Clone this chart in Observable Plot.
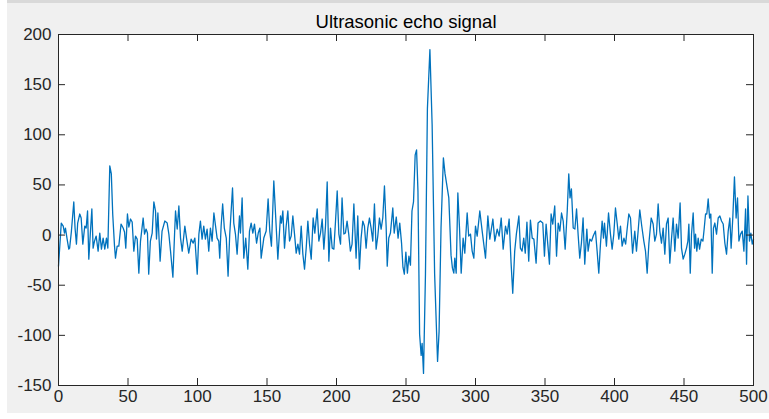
<!DOCTYPE html>
<html>
<head>
<meta charset="utf-8">
<script src="https://cdn.jsdelivr.net/npm/d3@7"></script>
<script src="https://cdn.jsdelivr.net/npm/@observablehq/plot@0.6"></script>
<style>
  html, body { margin: 0; padding: 0; background: #ffffff; width: 769px; height: 419px; overflow: hidden; }
  #bg { position: absolute; left: 7px; top: 0px; width: 762px; height: 413px; background: #f0f0f0; border-top: 3px solid #d9d9d9; box-sizing: border-box; }
  #chart { position: absolute; left: 0; top: 0; }
</style>
</head>
<body>
<div id="bg"></div>
<div id="chart"></div>
<script>
const chartTitle = "Ultrasonic echo signal";
const xTicks = [0, 50, 100, 150, 200, 250, 300, 350, 400, 450, 500];
const yTicks = [-150, -100, -50, 0, 50, 100, 150, 200];

// sample index
const sampleIdx = [
  0, 2, 3.4, 4.3, 5, 6.2, 7.4, 8, 9.3, 11, 11.9, 12.9, 13.8, 15.3, 16.3, 17.5, 18.9, 19.9, 20.9, 21.8,
  23, 24, 24.9, 25.9, 27.1, 28.5, 29.7, 30.9, 32.1, 33.3, 34.5, 35.5, 36.9, 38, 39, 40.3, 41, 42.2, 43.4, 45,
  46.5, 47.5, 48.4, 49.6, 50.6, 51.8, 53, 54.2, 55.4, 56.6, 57.8, 59, 60.9, 61.9, 63, 64, 64.9, 66.1, 67.4, 68.6,
  69.8, 70.5, 71.5, 73.1, 74.5, 76.5, 78.2, 79.4, 80.6, 82.3, 83.5, 84.2, 85.4, 86.6, 87.8, 89, 90.9, 92.1, 93.7, 95.4,
  96.9, 98.1, 99.8, 101, 102.1, 103.3, 104.5, 105.7, 106.9, 108.1, 109.3, 110.5, 111.8, 113, 114.1, 115.3, 116, 117, 118.1, 119.3,
  120.7, 122, 123.2, 125.2, 126.1, 127.3, 128.5, 130.2, 130.9, 132.1, 133.3, 134.7, 136.2, 137.4, 138.6, 139.8, 141, 142.5, 143.7, 144.9,
  145.8, 147.7, 149.4, 150.8, 152, 153.2, 154.9, 156.3, 157.8, 159.7, 160.4, 161.4, 162.6, 163.8, 165, 166.2, 167.4, 168.6, 169.8, 171,
  172.2, 173.4, 174.6, 175.8, 177, 178.2, 179.4, 180.6, 181.8, 183.2, 184.4, 186.1, 187.3, 188.5, 189.7, 190.9, 192.1, 193.3, 194.5, 195.7,
  196.9, 198.1, 199.3, 200.5, 201.7, 202.9, 204, 205.3, 206.4, 207.6, 208.8, 210, 211.2, 212.5, 214.1, 215.3, 216.5, 217.7, 218.9, 220.1,
  221.3, 222.5, 223.7, 224.9, 226.1, 227.3, 228.5, 229.7, 230.9, 232.1, 233.3, 234.5, 235.7, 236.5, 237.6, 238.8, 240.5, 241.5, 243, 244.3,
  245.5, 246.8, 247.8, 248.8, 249.9, 251, 252.1, 253.2, 254.3, 255.4, 256.6, 257.6, 258.6, 259.8, 260.9, 261.6, 262.6, 264, 265.4, 267.2,
  268.8, 270.6, 272.7, 273.8, 275.2, 276.9, 278.1, 280.8, 282.4, 283.4, 284.4, 285.1, 286.1, 287.3, 288.5, 289.7, 291.1, 292.3, 294, 295.1,
  296.4, 297.6, 298.8, 300, 301.2, 303.1, 304.8, 307.2, 308.9, 310.3, 312.5, 313.9, 315.6, 317, 318.5, 319.9, 321.6, 322.8, 324.2, 325.6,
  326.8, 328.2, 329.4, 331.2, 332.3, 333.5, 334.7, 335.8, 337, 338.3, 339.5, 340.8, 342, 343.6, 345, 346.7, 348.4, 349.6, 350.8, 352,
  353.2, 354.4, 355.6, 357, 358.3, 359.5, 360.7, 361.9, 363.1, 364.5, 366, 367.1, 368, 369, 370.3, 371.5, 372.7, 373.9, 375, 376.2,
  377.4, 378.6, 380.1, 381, 382.3, 383.5, 384.7, 386.3, 387.5, 388.7, 389.9, 391.1, 392.1, 392.8, 394.2, 395.7, 397.1, 398.3, 399.5, 400.7,
  401.9, 403.1, 404.3, 405.5, 406.8, 408, 409.1, 410.3, 411.5, 413, 414.6, 415.8, 417, 418.2, 419.6, 421.1, 422.3, 423.5, 424.7, 426.4,
  427.8, 429, 430.2, 431.4, 432.6, 433.8, 435, 436.2, 437.4, 438.6, 439.8, 441, 442.2, 443.4, 444.6, 445.8, 447.2, 448.2, 449.4, 450.6,
  451.8, 452.8, 453.5, 454.5, 455.4, 456.6, 457.6, 458.3, 459.2, 460.2, 461.2, 462.4, 463.6, 464.5, 465.5, 466.4, 467.4, 468.4, 469.3, 470.3,
  471.2, 472.2, 473.4, 474.6, 475.8, 477, 478.2, 479.4, 480.6, 481.8, 483, 483.9, 485.1, 486.3, 487.5, 488.5, 489.5, 490.7, 491.9, 493.1,
  494.3, 495, 496, 497.1, 498.1, 499.1, 500
];

// echo amplitude
const amplitude = [
  -31, 12, 9, 2, 7, -4, -14, -13, 4, 33, 7, -9, 12, 21, 17, -9, 9, 7, 24, -24,
  4, 26, -13, -6, -1, -16, 2, -14, -3, -14, -3, -13, 69, 61, 21, -11, -23, -11, -11, 11,
  7, 3, -13, 21, 8, 16, 13, -16, -1, -4, -38, -6, 17, 1, 6, 2, -39, -6, 2, 33,
  24, -4, 22, -26, 4, 14, 12, 1, -16, -42, 1, 24, 6, 29, -3, -16, 9, -3, -18, -4,
  -8, -3, -39, 1, 14, -4, 9, -4, 6, -16, 7, -6, 22, 9, -3, -6, -23, 9, 31, 7,
  -3, -41, 1, 47, 12, 1, -19, 19, 2, 37, -23, -3, -34, 4, 12, 2, 11, -8, 2, 7,
  -23, -3, 4, 36, 4, -11, 54, 17, -24, 19, 12, 24, -13, 9, 24, -6, -1, 19, 1, -18,
  -9, -19, 9, -19, -34, -13, 14, -9, -24, 17, 2, 26, -6, 2, 16, -14, 9, 53, -26, 7,
  -13, -14, 14, 44, 1, -9, 37, 1, 2, 14, 1, -16, -9, 31, -23, 19, -34, -3, 14, 9,
  -13, 7, 17, 7, -6, 31, -14, -1, 17, 6, 17, 49, 9, -31, -3, 2, 27, 2, 18, -3,
  12, -8, -32, -39, -17, -38, -21, -30, 24, 33, 80, 85, 44, -99, -120, -108, -138, -39, 126, 185,
  110, -39, -126, -96, 7, 77, 61, 37, -20, -33, -38, -23, -38, 42, 7, -38, -3, -18, 22, -1,
  1, -16, -23, 9, -1, 24, 4, -23, 19, -4, 16, -6, 6, -1, 17, -14, 9, 1, 16, -28,
  -58, -16, 1, 19, -13, -16, -3, -18, 13, -26, 15, -3, -4, -28, 12, 14, 12, -21, 11, -9,
  -29, 21, 11, 29, -21, 12, 4, 22, 14, -14, 24, 61, 37, 46, 7, 6, 26, -1, -23, -8,
  17, -29, 6, -16, -4, -6, -1, 4, -16, -38, -9, 14, -3, 12, -11, 22, 1, -14, 1, 27,
  12, -4, 9, -11, -3, -9, 6, 21, 17, -18, 4, -16, 4, 25, 9, -6, -16, -38, -9, 17,
  11, -6, 1, 31, 4, -8, 7, -19, 11, 17, -28, -4, 17, -16, 11, -3, 32, -13, -24, -19,
  -13, -6, 11, -38, 1, 22, -13, 1, -16, -3, -14, -4, -6, 6, 21, 21, 36, 17, 21, -38,
  7, 12, 1, 17, 19, 14, 11, -8, -19, 4, 17, -13, 17, 58, 17, 37, -6, 1, 4, -16,
  26, -29, 39, -6, 2, -9, -4
];

const data = sampleIdx.map((x, i) => ({x, y: amplitude[i]}));

const W = 769, H = 419;
const mL = 58, mR = 16, mT = 34, mB = 34;
const plotW = W - mL - mR, plotH = H - mT - mB;
const tickLen = 7;
const axisColor = "#262626";
const fmt = d => String(d);

const chart = Plot.plot({
  width: W,
  height: H,
  marginLeft: mL,
  marginRight: mR,
  marginTop: mT,
  marginBottom: mB,
  style: {background: "transparent", fontFamily: "'Liberation Sans', Arial, Helvetica, sans-serif", fontSize: "17px", color: axisColor},
  x: {domain: [0, 500], label: null},
  y: {domain: [-150, 200], label: null},
  marks: [
    Plot.frame({fill: "white", stroke: "none"}),
    Plot.line(data, {x: "x", y: "y", stroke: "#0072BD", strokeWidth: 1.3}),
    Plot.tickX(xTicks, {x: d => d, insetTop: plotH - tickLen, stroke: axisColor}),
    Plot.tickX(xTicks, {x: d => d, insetBottom: plotH - tickLen, stroke: axisColor}),
    Plot.tickY(yTicks, {y: d => d, insetRight: plotW - tickLen, stroke: axisColor}),
    Plot.tickY(yTicks, {y: d => d, insetLeft: plotW - tickLen, stroke: axisColor}),
    Plot.frame({stroke: axisColor, strokeWidth: 1}),
    Plot.axisX(xTicks, {tickSize: 0, tickPadding: 4, label: null, fill: axisColor, fontSize: 17, tickFormat: fmt}),
    Plot.axisY(yTicks, {tickSize: 0, tickPadding: 7, label: null, fill: axisColor, fontSize: 17, tickFormat: fmt}),
    Plot.text([chartTitle], {frameAnchor: "top", lineAnchor: "bottom", dy: -7, fontSize: 18.5, fill: "#000"})
  ]
});
document.getElementById("chart").appendChild(chart);
</script>
</body>
</html>
